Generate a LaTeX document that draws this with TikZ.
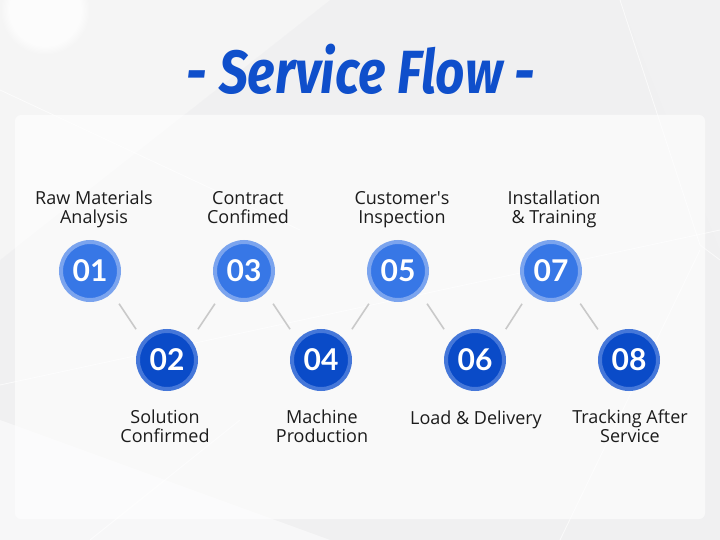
\documentclass[tikz,border=0pt]{standalone}
\usepackage{fontspec}
\usetikzlibrary{fadings}
\setmainfont{Open Sans}
\newfontfamily\titlefont{Fira Sans}
\newfontfamily\numfont{Lato}
\definecolor{titleblue}{HTML}{0F4FCB}
\definecolor{topfill}{HTML}{3777E6}
\definecolor{topring}{HTML}{7BA4EE}
\definecolor{botfill}{HTML}{0A4BC8}
\definecolor{botring}{HTML}{4577D9}
\definecolor{bggray}{HTML}{E9E9EA}
\definecolor{linkgray}{HTML}{C9C9C9}
\definecolor{txt}{HTML}{1C1C1C}
\tikzset{
  stepup/.style={circle, minimum size=58pt, inner sep=0pt, fill=topfill, draw=topring, line width=4pt,
     text=white, font=\numfont\fontsize{30}{30}\selectfont\bfseries},
  stepdown/.style={circle, minimum size=58pt, inner sep=0pt, fill=botfill, draw=botring, line width=4pt,
     text=white, font=\numfont\fontsize{30}{30}\selectfont\bfseries},
  lbl/.style={align=center, text=txt, font=\fontsize{18}{18.5}\selectfont, inner sep=0pt, anchor=base},
  link/.style={draw=linkgray, line width=1.6pt, shorten <=13pt, shorten >=13pt},
}
\begin{document}
\begin{tikzpicture}[x=1pt,y=-1pt]
\useasboundingbox (0,0) rectangle (720,540);
% background
\fill[bggray] (0,0) rectangle (720,540);
\fill[white,opacity=0.55] (0,0) -- (330,0) -- (0,260) -- cycle;
\fill[white,opacity=0.35] (0,260) -- (330,0) -- (620,0) -- (720,250) -- (720,540) -- (0,540) -- cycle;
\fill[white,opacity=0.5] (0,420) -- (330,540) -- (0,540) -- cycle;
\fill[white,opacity=0.4] (620,0) -- (720,0) -- (720,250) -- cycle;
\draw[white,line width=0.8pt,opacity=0.7] (0,90) -- (300,230);
\draw[white,line width=0.8pt,opacity=0.7] (620,0) -- (700,245) -- (720,260);
\draw[white,line width=0.8pt,opacity=0.7] (0,385) -- (720,230);
\draw[white,line width=0.8pt,opacity=0.7] (90,540) -- (240,420);
\draw[white,line width=0.8pt,opacity=0.7] (560,540) -- (700,250);
\fill[white, opacity=0.7, path fading=circle with fuzzy edge 20 percent] (45,10) circle (45pt);
% panel
\fill[white,opacity=0.6,rounded corners=6pt] (15,115) rectangle (705,519);
% title
\node[text=titleblue, inner sep=0pt] (title) at (361,69)
  {\scalebox{0.84}[1]{\titlefont\bfseries\itshape\fontsize{61}{61}\selectfont - Service Flow -}};
% steps
\node[stepup]   (c1) at (90,271)  {01};
\node[stepdown] (c2) at (167,360) {02};
\node[stepup]   (c3) at (244,271) {03};
\node[stepdown] (c4) at (321,360) {04};
\node[stepup]   (c5) at (398,271) {05};
\node[stepdown] (c6) at (475,360) {06};
\node[stepup]   (c7) at (551,271) {07};
\node[stepdown] (c8) at (629,360) {08};
% labels (base = baseline of last line)
\node[lbl] (l1) at (94,223)  {Raw Materials\\Analysis};
\node[lbl] (l3) at (248,223) {Contract\\Confimed};
\node[lbl] (l5) at (402,223) {Customer\textquotesingle s\\Inspection};
\node[lbl] (l7) at (554,223) {Installation\\\& Training};
\node[lbl] (l2) at (165,442) {Solution\\Confirmed};
\node[lbl] (l4) at (322,442) {Machine\\Production};
\node[lbl] (l6) at (476,424) {Load \& Delivery};
\node[lbl] (l8) at (630,442) {Tracking After\\Service};
% links
\draw[link] (c1.-45) -- (c2.140);
\draw[link] (c2.40) -- (c3.-135);
\draw[link] (c3.-45) -- (c4.140);
\draw[link] (c4.40) -- (c5.-135);
\draw[link] (c5.-45) -- (c6.140);
\draw[link] (c6.40) -- (c7.-135);
\draw[link] (c7.-45) -- (c8.140);
\end{tikzpicture}
\end{document}
